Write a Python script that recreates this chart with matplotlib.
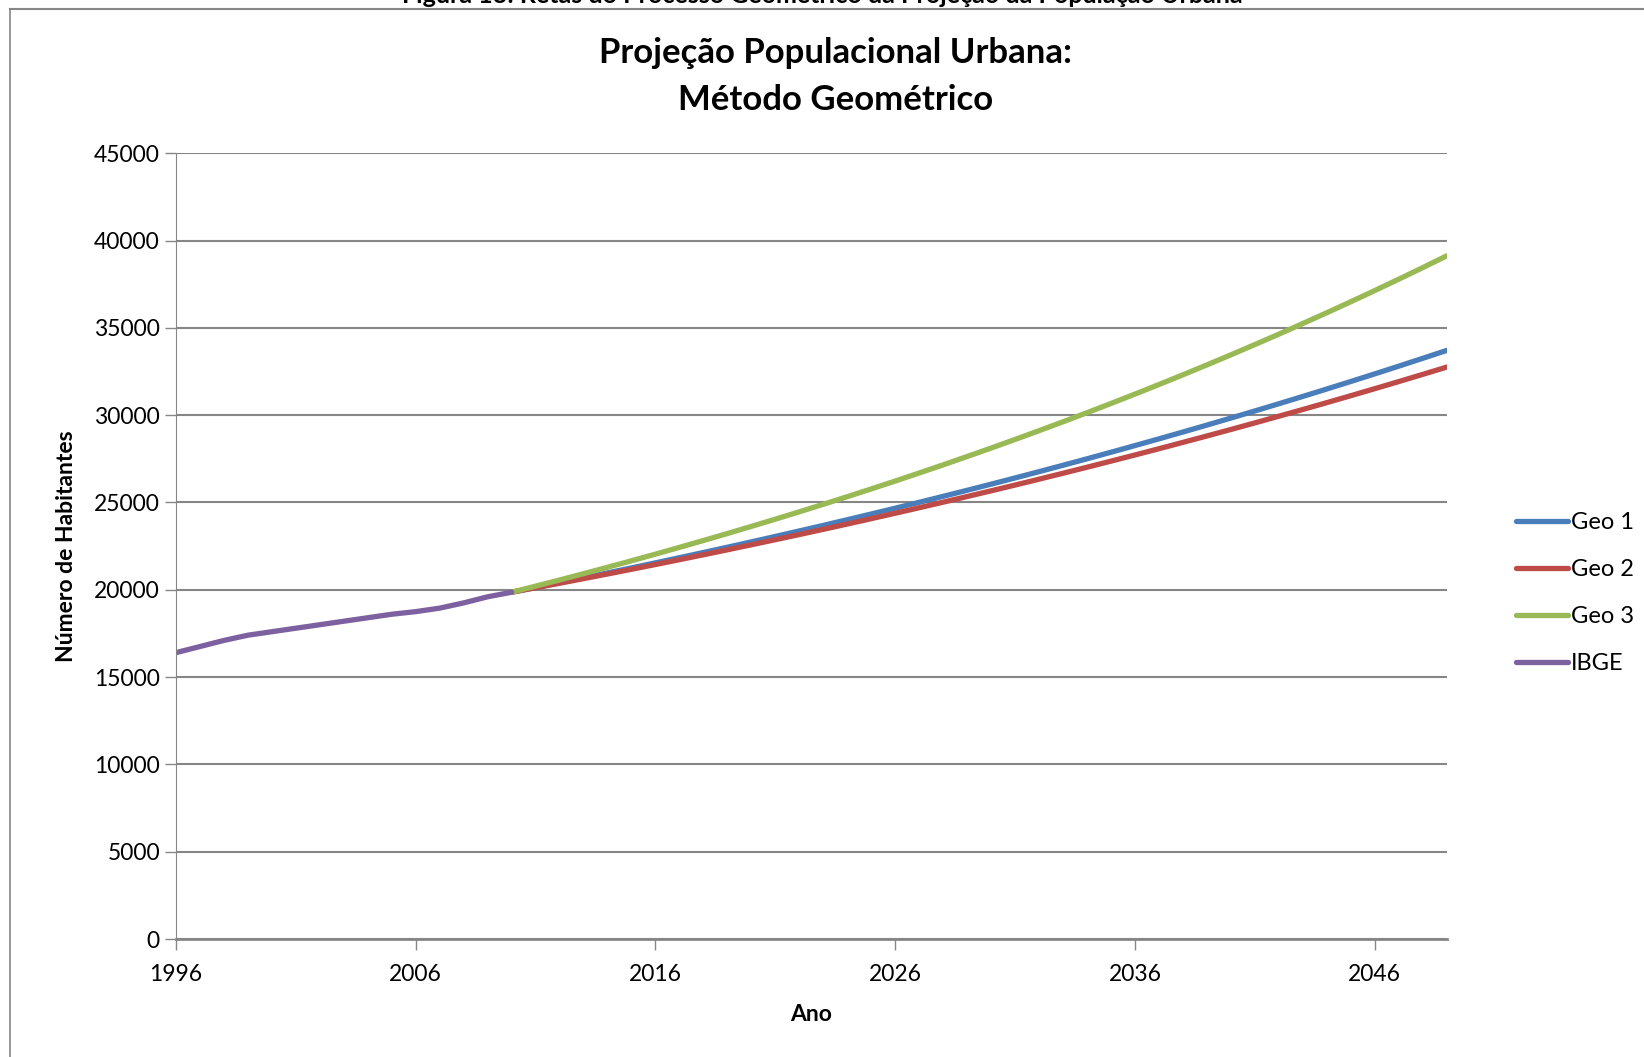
import matplotlib
matplotlib.use('Agg')
import matplotlib.pyplot as plt
from matplotlib.lines import Line2D

plt.rcParams['font.family'] = ['Lato', 'DejaVu Sans']

# IBGE data (1996-2010)
anos_ibge = list(range(1996, 2011))
ibge = [16400, 16750, 17100, 17400, 17600, 17800, 18000, 18200,
        18400, 18600, 18750, 18950, 19250, 19600, 19860]

# projections (2010-2049)
anos_geo = list(range(2010, 2050))
geo1 = [19860, 20131, 20406, 20685, 20968, 21254, 21544, 21839, 22137, 22439,
        22746, 23056, 23371, 23690, 24014, 24342, 24674, 25011, 25353, 25699,
        26050, 26406, 26767, 27133, 27503, 27879, 28260, 28646, 29037, 29434,
        29836, 30243, 30656, 31075, 31500, 31930, 32366, 32808, 33256, 33710]
geo2 = [19860, 20116, 20376, 20639, 20905, 21175, 21448, 21725, 22006, 22290,
        22578, 22870, 23165, 23464, 23767, 24074, 24385, 24700, 25019, 25342,
        25669, 26000, 26336, 26676, 27020, 27369, 27722, 28080, 28443, 28810,
        29182, 29559, 29941, 30327, 30719, 31116, 31518, 31925, 32337, 32755]
geo3 = [19860, 20208, 20562, 20923, 21290, 21663, 22043, 22430, 22823, 23223,
        23631, 24045, 24467, 24896, 25333, 25777, 26229, 26689, 27157, 27634,
        28118, 28611, 29113, 29624, 30143, 30672, 31210, 31757, 32314, 32881,
        33458, 34045, 34642, 35250, 35868, 36497, 37137, 37789, 38451, 39126]

xticks = [1996, 2006, 2016, 2026, 2036, 2046]
yticks = list(range(0, 45001, 5000))

fig = plt.figure(figsize=(16.44, 10.57), dpi=100)
ax = fig.add_axes([0.107, 0.1116, 0.773, 0.7434])

lw = 3.8
ax.plot(anos_geo, geo1, color='#4A7EBB', lw=lw, label='Geo 1', solid_capstyle='round')
ax.plot(anos_geo, geo2, color='#BE4B48', lw=lw, label='Geo 2', solid_capstyle='round')
ax.plot(anos_geo, geo3, color='#98B954', lw=lw, label='Geo 3', solid_capstyle='round')
ax.plot(anos_ibge, ibge, color='#7D60A0', lw=lw, label='IBGE', solid_capstyle='round')

ax.set_xlim(1996, 2049)
ax.set_ylim(0, 45000)
ax.set_xticks(xticks)
ax.set_yticks(yticks)
ax.grid(axis='y', color='#868686', lw=1.5)
ax.set_axisbelow(True)
for s in ['top', 'right']:
    ax.spines[s].set_visible(False)
ax.spines['left'].set_color('#868686')
ax.spines['bottom'].set_color('#868686')
ax.spines['bottom'].set_linewidth(2)
ax.tick_params(axis='both', colors='#868686', labelcolor='black', labelsize=16.5, length=8, width=1)
ax.tick_params(axis='x', pad=10)

ax.set_xlabel('Ano', fontsize=16.5, fontweight='bold', labelpad=14)
ax.set_ylabel('Número de Habitantes', fontsize=16.5, fontweight='bold', labelpad=12)

fig.text(0.508, 0.928, 'Projeção Populacional Urbana:\nMétodo Geométrico', ha='center', va='center',
         fontsize=25, fontweight='bold', linespacing=1.58)

fig.text(0.5, 1 - 3 / 1057, 'Figura 13: Retas do Processo Geométrico da Projeção da População Urbana',
         ha='center', va='baseline', fontsize=18, fontweight='bold')

# chart area border (left and top visible)
fig.add_artist(Line2D([10 / 1644, 10 / 1644], [0, 1 - 9 / 1057], transform=fig.transFigure, color='#868686', lw=1.2))
fig.add_artist(Line2D([10 / 1644, 1], [1 - 9 / 1057, 1 - 9 / 1057], transform=fig.transFigure, color='#868686', lw=1.5))

leg = ax.legend(loc='center left', bbox_to_anchor=(1.038, 0.44), frameon=False, fontsize=17,
                handlelength=2.2, handletextpad=0.1, labelspacing=1.1)

fig.savefig('out.png', dpi=100)
